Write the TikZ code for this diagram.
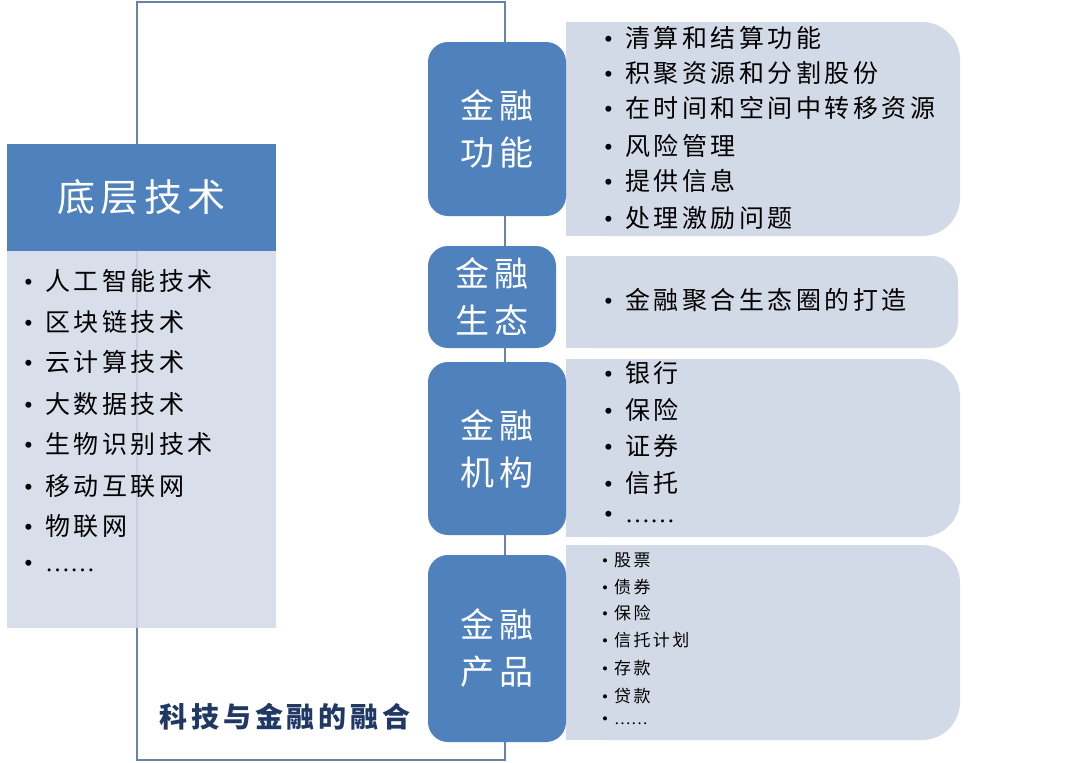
\documentclass[tikz,border=0pt]{standalone}
\usepackage{fontspec}
\setmainfont{Noto Sans CJK SC}
\newfontfamily\cnspaced[LetterSpace=14]{Noto Sans CJK SC}
\newfontfamily\latinfont{Liberation Serif}

\definecolor{boxblue}{HTML}{4F81BD}
\definecolor{listgray}{HTML}{D3DAE7}
\definecolor{frameblue}{HTML}{6A83A3}
\definecolor{titlenavy}{HTML}{1F3864}

\newcommand{\itm}{\makebox[21pt][l]{\latinfont\textbullet}}
\newcommand{\itms}{\makebox[12pt][l]{\latinfont\textbullet}}
\newcommand{\dotsline}{{\latinfont ……}}

\begin{document}
\begin{tikzpicture}[x=1pt,y=-1pt,
  frameline/.style={draw=frameblue,line width=2.4pt},
  headbox/.style={fill=boxblue,text=white,minimum width=269pt,minimum height=107pt,
    font=\cnspaced\fontsize{38}{44}\selectfont},
  bodybox/.style={fill=listgray,fill opacity=0.88,minimum width=269pt,minimum height=377pt},
  bluebox/.style={fill=boxblue,rounded corners=20pt,text=white,align=center,
    minimum width=138pt,font=\cnspaced\fontsize{34}{47}\selectfont},
  listbox/.style={fill=listgray,rounded corners=38pt,minimum width=394pt},
  item/.style={anchor=west,inner sep=0pt,font=\cnspaced\fontsize{25}{30}\selectfont},
  smallitem/.style={item,font=\cnspaced\fontsize{17}{20}\selectfont}]
  \useasboundingbox (0,0) rectangle (1080,763);

  % frame behind everything
  \node[frameline,minimum width=368pt,minimum height=758pt] (frame) at (321,381) {};

  % left column
  \node[bodybox] (techbody) at (141.5,439.5) {};
  \node[headbox] (techhead) at (141.5,197.5) {底层技术};
  \node[item] (tech1) at (24,281) {\itm 人工智能技术};
  \node[item] (tech2) at (24,322) {\itm 区块链技术};
  \node[item] (tech3) at (24,362) {\itm 云计算技术};
  \node[item] (tech4) at (24,404) {\itm 大数据技术};
  \node[item] (tech5) at (24,444) {\itm 生物识别技术};
  \node[item] (tech6) at (24,486) {\itm 移动互联网};
  \node[item] (tech7) at (24,526) {\itm 物联网};
  \node[item] (tech8) at (24,566) {\itm \dotsline};

  % right column lists
  \node[listbox,minimum height=214pt] (funclist) at (763,129) {};
  \fill[listgray] (funclist.north west) rectangle (funclist.south);
  \node[listbox,rounded corners=26pt,minimum width=392pt,minimum height=92pt] (ecolist) at (762,302) {};
  \fill[listgray] (ecolist.north west) rectangle (ecolist.south);
  \node[listbox,minimum height=178pt] (instlist) at (763,448) {};
  \fill[listgray] (instlist.north west) rectangle (instlist.south);
  \node[listbox,minimum height=195pt] (prodlist) at (763,642.5) {};
  \fill[listgray] (prodlist.north west) rectangle (prodlist.south);

  % blue boxes
  \node[bluebox,minimum height=174pt] (func) at (497,129) {金融\\功能};
  \node[bluebox,minimum width=128pt,minimum height=102pt] (eco) at (492,297) {金融\\生态};
  \node[bluebox,minimum height=173pt] (inst) at (497,448.5) {金融\\机构};
  \node[bluebox,minimum height=187pt] (prod) at (497,648.5) {金融\\产品};

  \node[item] (func1) at (604,38) {\itm 清算和结算功能};
  \node[item] (func2) at (604,73) {\itm 积聚资源和分割股份};
  \node[item] (func3) at (604,108) {\itm 在时间和空间中转移资源};
  \node[item] (func4) at (604,146) {\itm 风险管理};
  \node[item] (func5) at (604,181) {\itm 提供信息};
  \node[item] (func6) at (604,218) {\itm 处理激励问题};

  \node[item] (eco1) at (604,300) {\itm 金融聚合生态圈的打造};

  \node[item] (inst1) at (604,373) {\itm 银行};
  \node[item] (inst2) at (604,410) {\itm 保险};
  \node[item] (inst3) at (604,446) {\itm 证券};
  \node[item] (inst4) at (604,483) {\itm 信托};
  \node[item] (inst5) at (604,517) {\itm \dotsline};

  \node[smallitem] (prod1) at (602,560) {\itms 股票};
  \node[smallitem] (prod2) at (602,587) {\itms 债券};
  \node[smallitem] (prod3) at (602,613) {\itms 保险};
  \node[smallitem] (prod4) at (602,640) {\itms 信托计划};
  \node[smallitem] (prod5) at (602,668) {\itms 存款};
  \node[smallitem] (prod6) at (602,696) {\itms 贷款};
  \node[smallitem] (prod7) at (602,721) {\itms \dotsline};

  % caption
  \node[text=titlenavy,font=\cnspaced\bfseries\fontsize{28}{32}\selectfont] (title) at (285,717) {科技与金融的融合};
\end{tikzpicture}
\end{document}
